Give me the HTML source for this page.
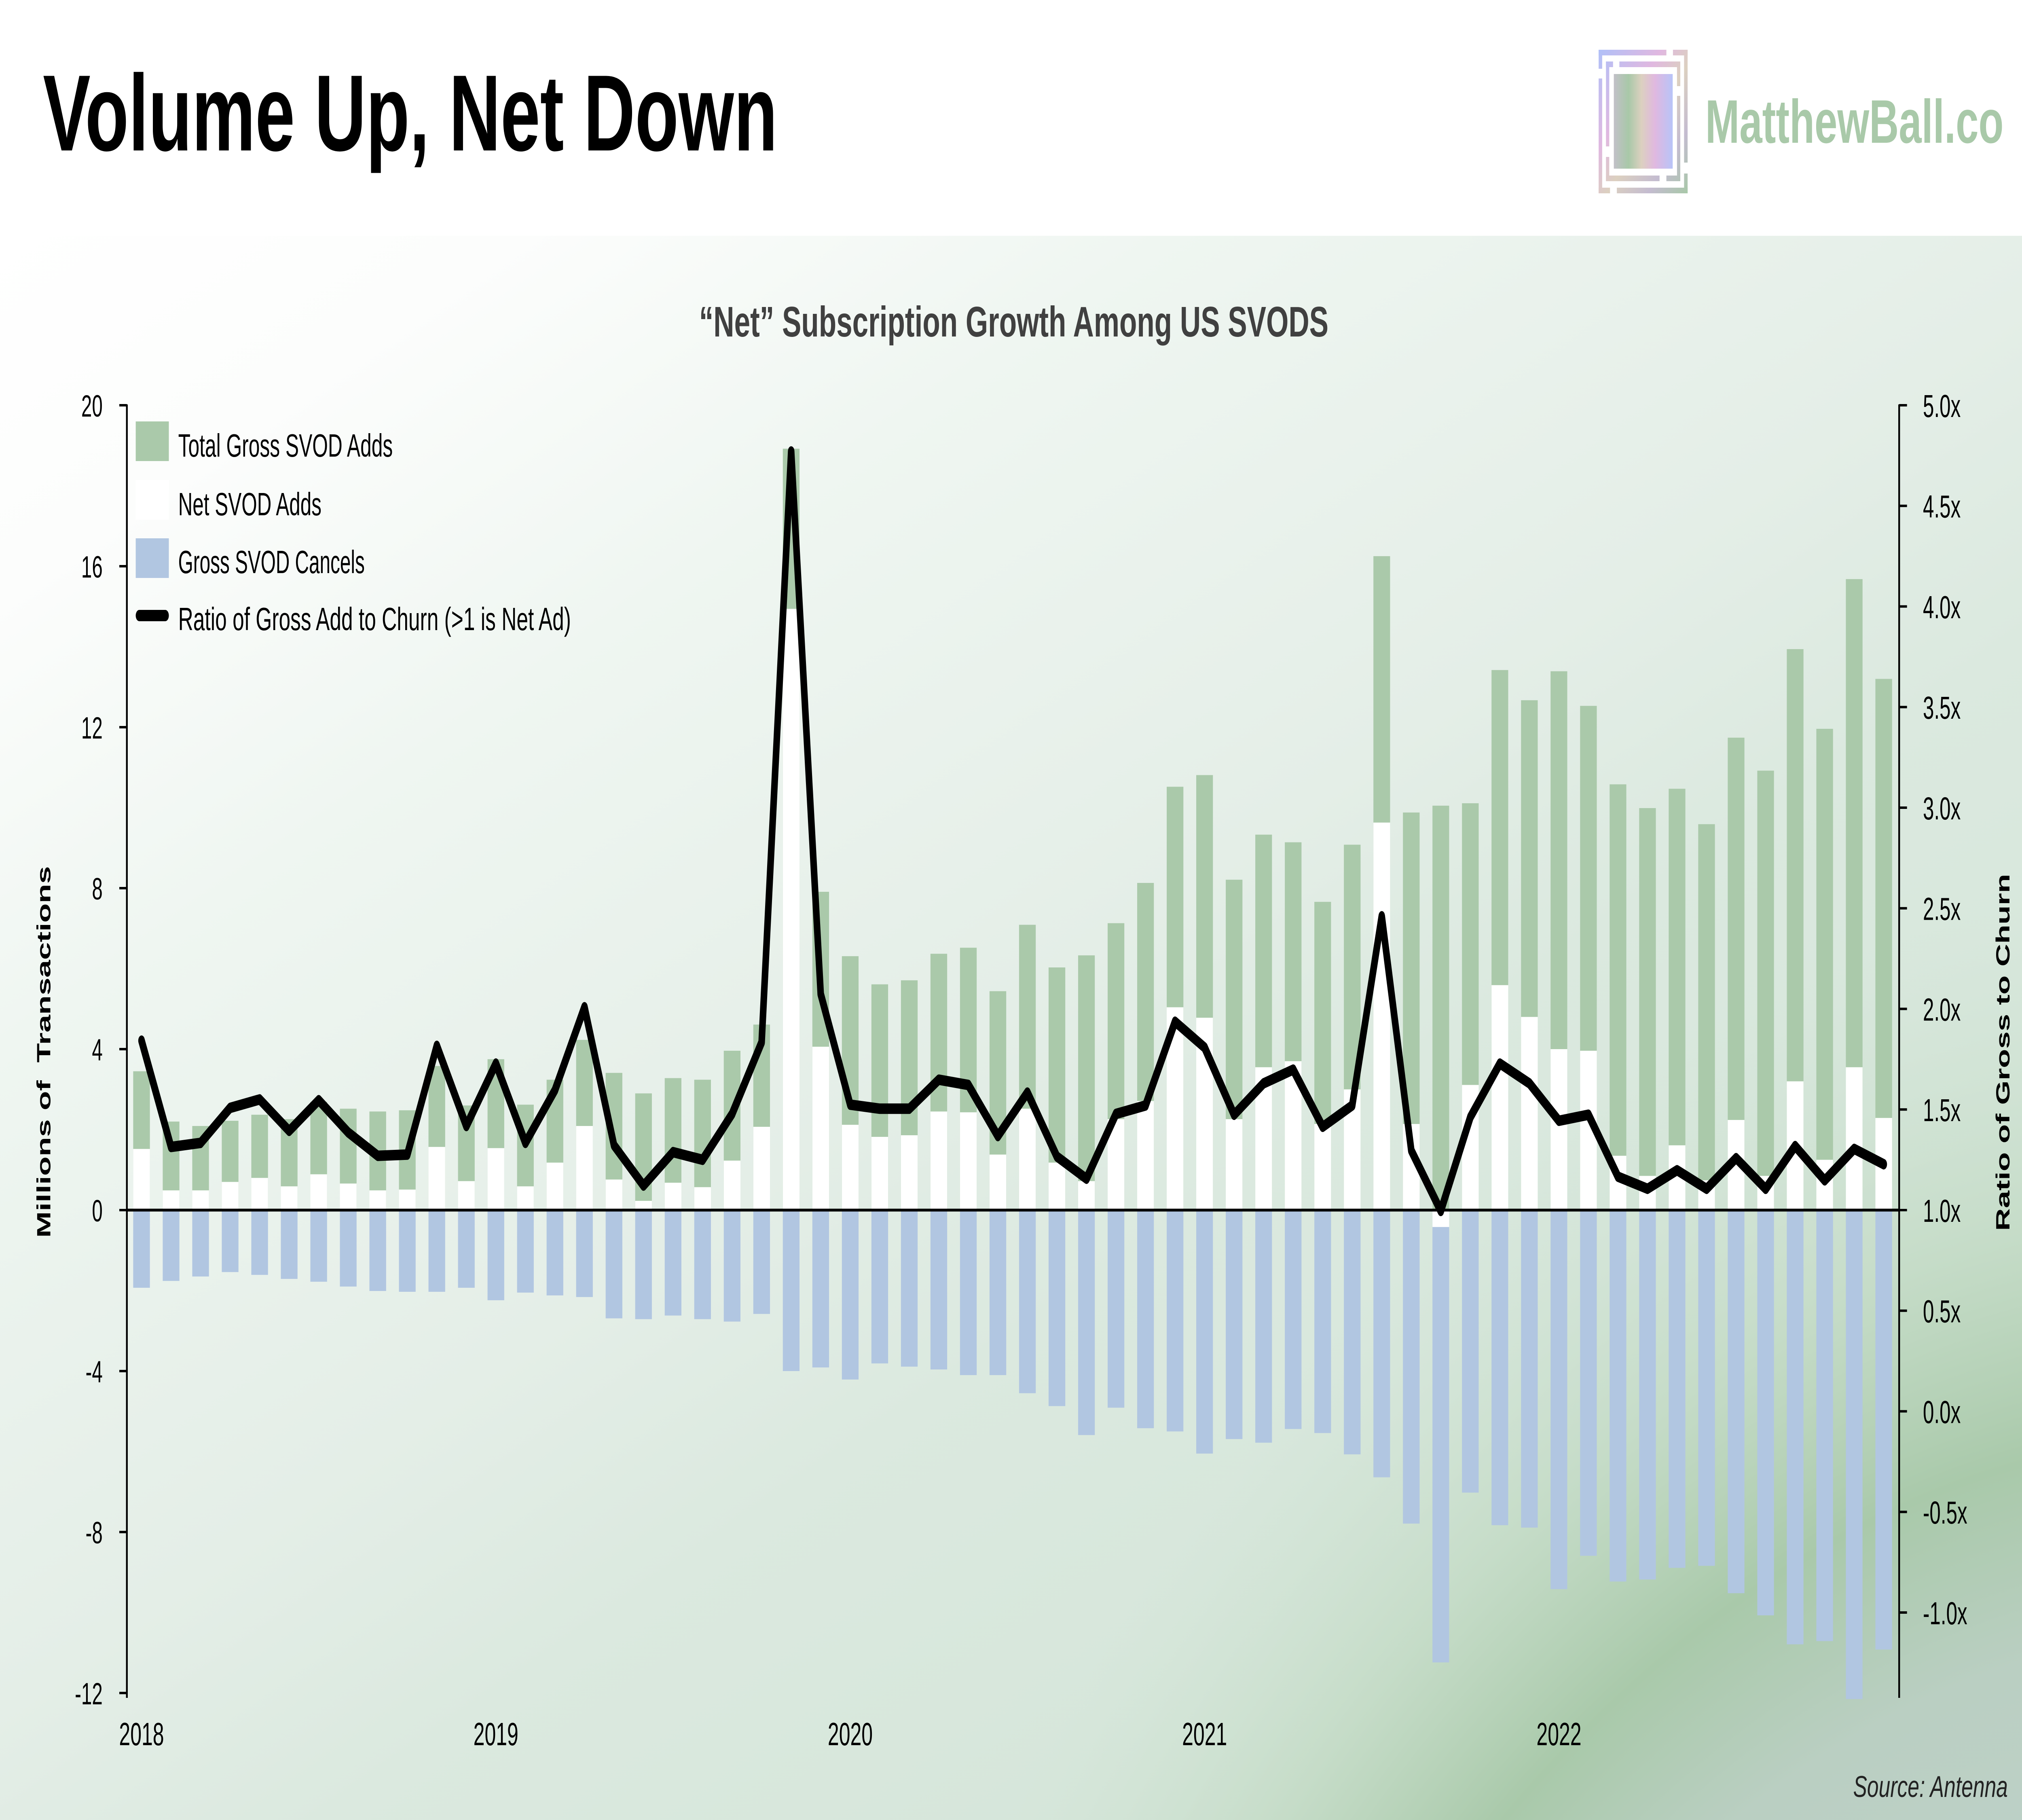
<!DOCTYPE html>
<html>
<head>
<meta charset="utf-8">
<style>
html,body{margin:0;padding:0;background:#fff;width:100%;height:100%;overflow:hidden;}
svg{display:block;width:100vw;height:100vh;}
text{font-family:"Liberation Sans", Arial, sans-serif;}
</style>
</head>
<body>
<svg xmlns="http://www.w3.org/2000/svg" viewBox="0 0 8000 4500" preserveAspectRatio="none">
  <defs>
    <linearGradient id="bgLin" gradientUnits="userSpaceOnUse" x1="0" y1="583" x2="2722" y2="6843">
      <stop offset="0" stop-color="#ffffff"/>
      <stop offset="0.12" stop-color="#fcfdfc"/>
      <stop offset="0.27" stop-color="#eff6f1"/>
      <stop offset="0.49" stop-color="#e4eee7"/>
      <stop offset="0.6" stop-color="#dbe9df"/>
      <stop offset="1" stop-color="#cfe2d4"/>
    </linearGradient>
    <radialGradient id="bgRad" gradientUnits="userSpaceOnUse" cx="8828" cy="8376" r="6200">
      <stop offset="0" stop-color="#bdd0c7" stop-opacity="1"/>
      <stop offset="0.629" stop-color="#bdd0c7" stop-opacity="1"/>
      <stop offset="0.70" stop-color="#bacfc2" stop-opacity="1"/>
      <stop offset="0.779" stop-color="#a9c9aa" stop-opacity="1"/>
      <stop offset="0.871" stop-color="#c2dac4" stop-opacity="0.8"/>
      <stop offset="1" stop-color="#d0e3d4" stop-opacity="0"/>
    </radialGradient>
    <linearGradient id="frameGrad" gradientUnits="userSpaceOnUse" x1="6325" y1="123" x2="6677" y2="478">
      <stop offset="0" stop-color="#b0c0f8"/>
      <stop offset="0.35" stop-color="#e0b8e0"/>
      <stop offset="0.55" stop-color="#dcd0c0"/>
      <stop offset="0.78" stop-color="#c4bcd0"/>
      <stop offset="1" stop-color="#a8c8a8"/>
    </linearGradient>
    <linearGradient id="innerGrad" x1="0" y1="0" x2="1" y2="0">
      <stop offset="0" stop-color="#c2c0c8"/>
      <stop offset="0.25" stop-color="#a8c8a8"/>
      <stop offset="0.47" stop-color="#dcd0c0"/>
      <stop offset="0.7" stop-color="#e0b8e0"/>
      <stop offset="1" stop-color="#b8c4f8"/>
    </linearGradient>
  </defs>

  <!-- backgrounds -->
  <rect x="0" y="0" width="8000" height="4500" fill="#ffffff"/>
  <rect x="0" y="583" width="8000" height="3917" fill="url(#bgLin)"/>
  <rect x="0" y="583" width="8000" height="3917" fill="url(#bgRad)"/>

  <!-- Title -->
  <text x="170" y="372" font-size="268" font-weight="bold" fill="#000" textLength="2906" lengthAdjust="spacingAndGlyphs">Volume Up, Net Down</text>

  <!-- Logo -->
  <g fill="url(#frameGrad)">
    <rect x="6325" y="123" width="268" height="14"/>
    <rect x="6619" y="123" width="58" height="14"/>
    <rect x="6325" y="123" width="14" height="47"/>
    <rect x="6325" y="194" width="14" height="284"/>
    <rect x="6663" y="123" width="14" height="279"/>
    <rect x="6663" y="429" width="14" height="49"/>
    <rect x="6325" y="464" width="45" height="14"/>
    <rect x="6397" y="464" width="280" height="14"/>
    <rect x="6354" y="152" width="28" height="14"/>
    <rect x="6407" y="152" width="241" height="14"/>
    <rect x="6354" y="152" width="13" height="210"/>
    <rect x="6354" y="388" width="13" height="60"/>
    <rect x="6635" y="152" width="13" height="61"/>
    <rect x="6635" y="237" width="13" height="211"/>
    <rect x="6354" y="434" width="212" height="14"/>
    <rect x="6593" y="434" width="55" height="14"/>
  </g>
  <rect x="6385" y="183" width="233" height="234" fill="url(#innerGrad)"/>
  <text x="6747" y="353" font-size="152" font-weight="bold" fill="#a9c9a9" textLength="1180" lengthAdjust="spacingAndGlyphs">MatthewBall.co</text>

  <!-- Chart title -->
  <text x="2766" y="832" font-size="106" font-weight="bold" fill="#404040" textLength="2490" lengthAdjust="spacingAndGlyphs">“Net” Subscription Growth Among US SVODS</text>

  <!-- Bars -->
  <g transform="translate(560 2992) scale(116.83 -99.5)">
    <g fill="#aac9aa">
      <rect x="-0.2825" y="0" width="0.565" height="3.45"/>
      <rect x="0.7175" y="0" width="0.565" height="2.20"/>
      <rect x="1.7175" y="0" width="0.565" height="2.09"/>
      <rect x="2.7175" y="0" width="0.565" height="2.22"/>
      <rect x="3.7175" y="0" width="0.565" height="2.37"/>
      <rect x="4.7175" y="0" width="0.565" height="2.26"/>
      <rect x="5.7175" y="0" width="0.565" height="2.69"/>
      <rect x="6.7175" y="0" width="0.565" height="2.52"/>
      <rect x="7.7175" y="0" width="0.565" height="2.45"/>
      <rect x="8.7175" y="0" width="0.565" height="2.48"/>
      <rect x="9.7175" y="0" width="0.565" height="3.58"/>
      <rect x="10.7175" y="0" width="0.565" height="2.60"/>
      <rect x="11.7175" y="0" width="0.565" height="3.75"/>
      <rect x="12.7175" y="0" width="0.565" height="2.62"/>
      <rect x="13.7175" y="0" width="0.565" height="3.24"/>
      <rect x="14.7175" y="0" width="0.565" height="4.23"/>
      <rect x="15.7175" y="0" width="0.565" height="3.41"/>
      <rect x="16.7175" y="0" width="0.565" height="2.90"/>
      <rect x="17.7175" y="0" width="0.565" height="3.28"/>
      <rect x="18.7175" y="0" width="0.565" height="3.24"/>
      <rect x="19.7175" y="0" width="0.565" height="3.96"/>
      <rect x="20.7175" y="0" width="0.565" height="4.61"/>
      <rect x="21.7175" y="0" width="0.565" height="18.92"/>
      <rect x="22.7175" y="0" width="0.565" height="7.91"/>
      <rect x="23.7175" y="0" width="0.565" height="6.31"/>
      <rect x="24.7175" y="0" width="0.565" height="5.61"/>
      <rect x="25.7175" y="0" width="0.565" height="5.71"/>
      <rect x="26.7175" y="0" width="0.565" height="6.37"/>
      <rect x="27.7175" y="0" width="0.565" height="6.52"/>
      <rect x="28.7175" y="0" width="0.565" height="5.44"/>
      <rect x="29.7175" y="0" width="0.565" height="7.09"/>
      <rect x="30.7175" y="0" width="0.565" height="6.03"/>
      <rect x="31.7175" y="0" width="0.565" height="6.33"/>
      <rect x="32.7175" y="0" width="0.565" height="7.13"/>
      <rect x="33.7175" y="0" width="0.565" height="8.13"/>
      <rect x="34.7175" y="0" width="0.565" height="10.52"/>
      <rect x="35.7175" y="0" width="0.565" height="10.81"/>
      <rect x="36.7175" y="0" width="0.565" height="8.21"/>
      <rect x="37.7175" y="0" width="0.565" height="9.33"/>
      <rect x="38.7175" y="0" width="0.565" height="9.14"/>
      <rect x="39.7175" y="0" width="0.565" height="7.66"/>
      <rect x="40.7175" y="0" width="0.565" height="9.08"/>
      <rect x="41.7175" y="0" width="0.565" height="16.25"/>
      <rect x="42.7175" y="0" width="0.565" height="9.88"/>
      <rect x="43.7175" y="0" width="0.565" height="10.05"/>
      <rect x="44.7175" y="0" width="0.565" height="10.11"/>
      <rect x="45.7175" y="0" width="0.565" height="13.42"/>
      <rect x="46.7175" y="0" width="0.565" height="12.67"/>
      <rect x="47.7175" y="0" width="0.565" height="13.39"/>
      <rect x="48.7175" y="0" width="0.565" height="12.53"/>
      <rect x="49.7175" y="0" width="0.565" height="10.58"/>
      <rect x="50.7175" y="0" width="0.565" height="9.99"/>
      <rect x="51.7175" y="0" width="0.565" height="10.47"/>
      <rect x="52.7175" y="0" width="0.565" height="9.59"/>
      <rect x="53.7175" y="0" width="0.565" height="11.74"/>
      <rect x="54.7175" y="0" width="0.565" height="10.92"/>
      <rect x="55.7175" y="0" width="0.565" height="13.94"/>
      <rect x="56.7175" y="0" width="0.565" height="11.96"/>
      <rect x="57.7175" y="0" width="0.565" height="15.68"/>
      <rect x="58.7175" y="0" width="0.565" height="13.20"/>
    </g>
    <g fill="#b1c6e1">
      <rect x="-0.2825" y="-1.93" width="0.565" height="1.93"/>
      <rect x="0.7175" y="-1.76" width="0.565" height="1.76"/>
      <rect x="1.7175" y="-1.65" width="0.565" height="1.65"/>
      <rect x="2.7175" y="-1.54" width="0.565" height="1.54"/>
      <rect x="3.7175" y="-1.61" width="0.565" height="1.61"/>
      <rect x="4.7175" y="-1.71" width="0.565" height="1.71"/>
      <rect x="5.7175" y="-1.78" width="0.565" height="1.78"/>
      <rect x="6.7175" y="-1.90" width="0.565" height="1.90"/>
      <rect x="7.7175" y="-2.01" width="0.565" height="2.01"/>
      <rect x="8.7175" y="-2.03" width="0.565" height="2.03"/>
      <rect x="9.7175" y="-2.03" width="0.565" height="2.03"/>
      <rect x="10.7175" y="-1.93" width="0.565" height="1.93"/>
      <rect x="11.7175" y="-2.24" width="0.565" height="2.24"/>
      <rect x="12.7175" y="-2.05" width="0.565" height="2.05"/>
      <rect x="13.7175" y="-2.12" width="0.565" height="2.12"/>
      <rect x="14.7175" y="-2.16" width="0.565" height="2.16"/>
      <rect x="15.7175" y="-2.69" width="0.565" height="2.69"/>
      <rect x="16.7175" y="-2.71" width="0.565" height="2.71"/>
      <rect x="17.7175" y="-2.62" width="0.565" height="2.62"/>
      <rect x="18.7175" y="-2.71" width="0.565" height="2.71"/>
      <rect x="19.7175" y="-2.77" width="0.565" height="2.77"/>
      <rect x="20.7175" y="-2.58" width="0.565" height="2.58"/>
      <rect x="21.7175" y="-4.00" width="0.565" height="4.00"/>
      <rect x="22.7175" y="-3.91" width="0.565" height="3.91"/>
      <rect x="23.7175" y="-4.21" width="0.565" height="4.21"/>
      <rect x="24.7175" y="-3.81" width="0.565" height="3.81"/>
      <rect x="25.7175" y="-3.89" width="0.565" height="3.89"/>
      <rect x="26.7175" y="-3.96" width="0.565" height="3.96"/>
      <rect x="27.7175" y="-4.10" width="0.565" height="4.10"/>
      <rect x="28.7175" y="-4.10" width="0.565" height="4.10"/>
      <rect x="29.7175" y="-4.55" width="0.565" height="4.55"/>
      <rect x="30.7175" y="-4.87" width="0.565" height="4.87"/>
      <rect x="31.7175" y="-5.59" width="0.565" height="5.59"/>
      <rect x="32.7175" y="-4.91" width="0.565" height="4.91"/>
      <rect x="33.7175" y="-5.42" width="0.565" height="5.42"/>
      <rect x="34.7175" y="-5.50" width="0.565" height="5.50"/>
      <rect x="35.7175" y="-6.05" width="0.565" height="6.05"/>
      <rect x="36.7175" y="-5.69" width="0.565" height="5.69"/>
      <rect x="37.7175" y="-5.78" width="0.565" height="5.78"/>
      <rect x="38.7175" y="-5.44" width="0.565" height="5.44"/>
      <rect x="39.7175" y="-5.54" width="0.565" height="5.54"/>
      <rect x="40.7175" y="-6.07" width="0.565" height="6.07"/>
      <rect x="41.7175" y="-6.64" width="0.565" height="6.64"/>
      <rect x="42.7175" y="-7.79" width="0.565" height="7.79"/>
      <rect x="43.7175" y="-11.24" width="0.565" height="11.24"/>
      <rect x="44.7175" y="-7.02" width="0.565" height="7.02"/>
      <rect x="45.7175" y="-7.83" width="0.565" height="7.83"/>
      <rect x="46.7175" y="-7.89" width="0.565" height="7.89"/>
      <rect x="47.7175" y="-9.42" width="0.565" height="9.42"/>
      <rect x="48.7175" y="-8.59" width="0.565" height="8.59"/>
      <rect x="49.7175" y="-9.23" width="0.565" height="9.23"/>
      <rect x="50.7175" y="-9.18" width="0.565" height="9.18"/>
      <rect x="51.7175" y="-8.89" width="0.565" height="8.89"/>
      <rect x="52.7175" y="-8.84" width="0.565" height="8.84"/>
      <rect x="53.7175" y="-9.52" width="0.565" height="9.52"/>
      <rect x="54.7175" y="-10.07" width="0.565" height="10.07"/>
      <rect x="55.7175" y="-10.79" width="0.565" height="10.79"/>
      <rect x="56.7175" y="-10.71" width="0.565" height="10.71"/>
      <rect x="57.7175" y="-12.15" width="0.565" height="12.15"/>
      <rect x="58.7175" y="-10.92" width="0.565" height="10.92"/>
    </g>
    <g fill="#ffffff">
      <rect x="-0.2825" y="0" width="0.565" height="1.52"/>
      <rect x="0.7175" y="0" width="0.565" height="0.49"/>
      <rect x="1.7175" y="0" width="0.565" height="0.49"/>
      <rect x="2.7175" y="0" width="0.565" height="0.70"/>
      <rect x="3.7175" y="0" width="0.565" height="0.80"/>
      <rect x="4.7175" y="0" width="0.565" height="0.59"/>
      <rect x="5.7175" y="0" width="0.565" height="0.89"/>
      <rect x="6.7175" y="0" width="0.565" height="0.66"/>
      <rect x="7.7175" y="0" width="0.565" height="0.49"/>
      <rect x="8.7175" y="0" width="0.565" height="0.51"/>
      <rect x="9.7175" y="0" width="0.565" height="1.57"/>
      <rect x="10.7175" y="0" width="0.565" height="0.72"/>
      <rect x="11.7175" y="0" width="0.565" height="1.54"/>
      <rect x="12.7175" y="0" width="0.565" height="0.59"/>
      <rect x="13.7175" y="0" width="0.565" height="1.18"/>
      <rect x="14.7175" y="0" width="0.565" height="2.09"/>
      <rect x="15.7175" y="0" width="0.565" height="0.76"/>
      <rect x="16.7175" y="0" width="0.565" height="0.23"/>
      <rect x="17.7175" y="0" width="0.565" height="0.68"/>
      <rect x="18.7175" y="0" width="0.565" height="0.57"/>
      <rect x="19.7175" y="0" width="0.565" height="1.23"/>
      <rect x="20.7175" y="0" width="0.565" height="2.07"/>
      <rect x="21.7175" y="0" width="0.565" height="14.94"/>
      <rect x="22.7175" y="0" width="0.565" height="4.06"/>
      <rect x="23.7175" y="0" width="0.565" height="2.12"/>
      <rect x="24.7175" y="0" width="0.565" height="1.82"/>
      <rect x="25.7175" y="0" width="0.565" height="1.86"/>
      <rect x="26.7175" y="0" width="0.565" height="2.45"/>
      <rect x="27.7175" y="0" width="0.565" height="2.43"/>
      <rect x="28.7175" y="0" width="0.565" height="1.38"/>
      <rect x="29.7175" y="0" width="0.565" height="2.52"/>
      <rect x="30.7175" y="0" width="0.565" height="1.18"/>
      <rect x="31.7175" y="0" width="0.565" height="0.72"/>
      <rect x="32.7175" y="0" width="0.565" height="2.26"/>
      <rect x="33.7175" y="0" width="0.565" height="2.71"/>
      <rect x="34.7175" y="0" width="0.565" height="5.04"/>
      <rect x="35.7175" y="0" width="0.565" height="4.78"/>
      <rect x="36.7175" y="0" width="0.565" height="2.26"/>
      <rect x="37.7175" y="0" width="0.565" height="3.55"/>
      <rect x="38.7175" y="0" width="0.565" height="3.70"/>
      <rect x="39.7175" y="0" width="0.565" height="2.14"/>
      <rect x="40.7175" y="0" width="0.565" height="3.00"/>
      <rect x="41.7175" y="0" width="0.565" height="9.63"/>
      <rect x="42.7175" y="0" width="0.565" height="2.14"/>
      <rect x="43.7175" y="-0.42" width="0.565" height="0.42"/>
      <rect x="44.7175" y="0" width="0.565" height="3.11"/>
      <rect x="45.7175" y="0" width="0.565" height="5.59"/>
      <rect x="46.7175" y="0" width="0.565" height="4.80"/>
      <rect x="47.7175" y="0" width="0.565" height="4.00"/>
      <rect x="48.7175" y="0" width="0.565" height="3.96"/>
      <rect x="49.7175" y="0" width="0.565" height="1.35"/>
      <rect x="50.7175" y="0" width="0.565" height="0.85"/>
      <rect x="51.7175" y="0" width="0.565" height="1.61"/>
      <rect x="52.7175" y="0" width="0.565" height="0.74"/>
      <rect x="53.7175" y="0" width="0.565" height="2.24"/>
      <rect x="54.7175" y="0" width="0.565" height="0.85"/>
      <rect x="55.7175" y="0" width="0.565" height="3.20"/>
      <rect x="56.7175" y="0" width="0.565" height="1.25"/>
      <rect x="57.7175" y="0" width="0.565" height="3.55"/>
      <rect x="58.7175" y="0" width="0.565" height="2.29"/>
    </g>
  </g>

  <!-- Axes -->
  <g stroke="#000" fill="none">
    <line x1="502" y1="1000" x2="502" y2="4198" stroke-width="7"/>
    <line x1="7514" y1="1000" x2="7514" y2="4198" stroke-width="7"/>
    <line x1="502" y1="2992" x2="7514" y2="2992" stroke-width="7"/>
    <g stroke-width="6">
      <line x1="472" y1="1002" x2="502" y2="1002"/>
      <line x1="472" y1="1400" x2="502" y2="1400"/>
      <line x1="472" y1="1798" x2="502" y2="1798"/>
      <line x1="472" y1="2196" x2="502" y2="2196"/>
      <line x1="472" y1="2594" x2="502" y2="2594"/>
      <line x1="472" y1="2992" x2="502" y2="2992"/>
      <line x1="472" y1="3390" x2="502" y2="3390"/>
      <line x1="472" y1="3788" x2="502" y2="3788"/>
      <line x1="472" y1="4186" x2="502" y2="4186"/>
      <line x1="7514" y1="1002" x2="7545" y2="1002"/>
      <line x1="7514" y1="1250.75" x2="7545" y2="1250.75"/>
      <line x1="7514" y1="1499.5" x2="7545" y2="1499.5"/>
      <line x1="7514" y1="1748.25" x2="7545" y2="1748.25"/>
      <line x1="7514" y1="1997" x2="7545" y2="1997"/>
      <line x1="7514" y1="2245.75" x2="7545" y2="2245.75"/>
      <line x1="7514" y1="2494.5" x2="7545" y2="2494.5"/>
      <line x1="7514" y1="2743.25" x2="7545" y2="2743.25"/>
      <line x1="7514" y1="2992" x2="7545" y2="2992"/>
      <line x1="7514" y1="3240.75" x2="7545" y2="3240.75"/>
      <line x1="7514" y1="3489.5" x2="7545" y2="3489.5"/>
      <line x1="7514" y1="3738.25" x2="7545" y2="3738.25"/>
      <line x1="7514" y1="3987" x2="7545" y2="3987"/>
    </g>
  </g>

  <!-- Ratio line -->
  <polyline fill="none" stroke="#000" stroke-width="26" stroke-linejoin="round" stroke-linecap="round"
    points="560,2573.1 676.8,2835.8 793.7,2825.8 910.5,2739.3 1027.3,2718.4 1144.2,2796.0 1261.0,2720.4 1377.8,2800.0 1494.6,2857.7 1611.5,2854.7 1728.3,2586.0 1845.1,2784.0 1962.0,2629.8 2078.8,2825.8 2195.6,2695.5 2312.5,2490.5 2429.3,2831.8 2546.1,2931.3 2662.9,2848.7 2779.8,2867.6 2896.6,2754.2 3013.4,2577.1 3130.3,1116.4 3247.1,2457.7 3363.9,2731.3 3480.8,2741.3 3597.6,2741.3 3714.4,2669.6 3831.2,2682.6 3948.1,2808.9 4064.9,2701.5 4181.7,2859.7 4298.6,2914.4 4415.4,2754.2 4532.2,2733.3 4649.1,2526.3 4765.9,2590.0 4882.7,2756.2 4999.5,2678.6 5116.4,2644.7 5233.2,2786.0 5350.0,2733.3 5466.9,2265.6 5583.7,2844.7 5700.5,2994.0 5817.4,2762.2 5934.2,2629.8 6051.0,2678.6 6167.8,2771.1 6284.7,2756.2 6401.5,2909.4 6518.3,2939.3 6635.2,2893.5 6752.0,2939.3 6868.8,2863.6 6985.7,2939.3 7102.5,2833.8 7219.3,2918.4 7336.1,2840.8 7453.0,2878.6"/>

  <!-- Left tick labels -->
  <g font-size="76" fill="#000" text-anchor="end">
    <text x="406" y="1030">20</text>
    <text x="406" y="1428">16</text>
    <text x="406" y="1826">12</text>
    <text x="406" y="2224">8</text>
    <text x="406" y="2622">4</text>
    <text x="406" y="3020">0</text>
    <text x="406" y="3418">-4</text>
    <text x="406" y="3816">-8</text>
    <text x="406" y="4214">-12</text>
  </g>

  <!-- Right tick labels -->
  <g font-size="79" fill="#000">
    <text x="7608" y="1031">5.0x</text>
    <text x="7608" y="1279.75">4.5x</text>
    <text x="7608" y="1528.5">4.0x</text>
    <text x="7608" y="1777.25">3.5x</text>
    <text x="7608" y="2026">3.0x</text>
    <text x="7608" y="2274.75">2.5x</text>
    <text x="7608" y="2523.5">2.0x</text>
    <text x="7608" y="2772.25">1.5x</text>
    <text x="7608" y="3021">1.0x</text>
    <text x="7608" y="3269.75">0.5x</text>
    <text x="7608" y="3518.5">0.0x</text>
    <text x="7608" y="3767.25">-0.5x</text>
    <text x="7608" y="4016">-1.0x</text>
  </g>

  <!-- X labels -->
  <g font-size="80" fill="#000" text-anchor="middle">
    <text x="560" y="4315">2018</text>
    <text x="1962" y="4315">2019</text>
    <text x="3364" y="4315">2020</text>
    <text x="4766" y="4315">2021</text>
    <text x="6168" y="4315">2022</text>
  </g>

  <!-- Axis titles -->
  <text transform="translate(199 2601) rotate(-90)" text-anchor="middle" font-size="76" font-weight="bold" fill="#000" textLength="919" lengthAdjust="spacingAndGlyphs">Millions of&#160;&#160;Transactions</text>
  <text transform="translate(7950 2602) rotate(-90)" text-anchor="middle" font-size="76" font-weight="bold" fill="#000" textLength="883" lengthAdjust="spacingAndGlyphs">Ratio of Gross to Churn</text>

  <!-- Legend -->
  <rect x="537" y="1042" width="131" height="98" fill="#aac9aa"/>
  <text x="705" y="1129" font-size="80" fill="#000" textLength="849" lengthAdjust="spacingAndGlyphs">Total Gross SVOD Adds</text>
  <rect x="537" y="1187" width="131" height="98" fill="#ffffff"/>
  <text x="705" y="1274" font-size="80" fill="#000" textLength="567" lengthAdjust="spacingAndGlyphs">Net SVOD Adds</text>
  <rect x="537" y="1331" width="131" height="98" fill="#b1c6e1"/>
  <text x="705" y="1417" font-size="80" fill="#000" textLength="738" lengthAdjust="spacingAndGlyphs">Gross SVOD Cancels</text>
  <line x1="551" y1="1522" x2="654" y2="1522" stroke="#000" stroke-width="28" stroke-linecap="round"/>
  <text x="705" y="1558" font-size="80" fill="#000" textLength="1554" lengthAdjust="spacingAndGlyphs">Ratio of Gross Add to Churn (&gt;1 is Net Ad)</text>

  <!-- Source -->
  <text x="7332" y="4443" font-size="74" font-style="italic" fill="#222" textLength="612" lengthAdjust="spacingAndGlyphs">Source: Antenna</text>
</svg>
</body>
</html>
